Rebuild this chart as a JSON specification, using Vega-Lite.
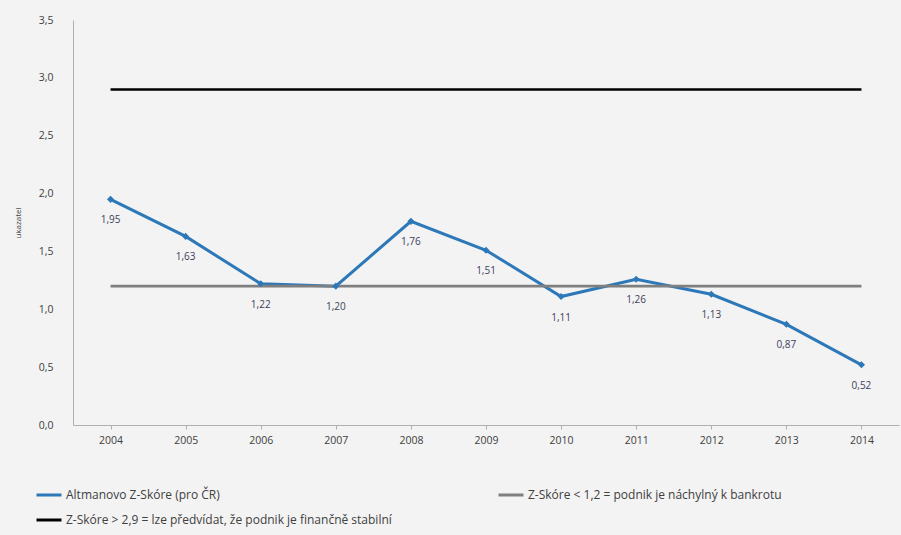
{
  "$schema": "https://vega.github.io/schema/vega-lite/v6.json",
  "width": 826,
  "height": 405,
  "autosize": {"type": "none"},
  "padding": {"left": 73, "top": 20, "right": 2, "bottom": 110},
  "background": "#f3f3f3",
  "config": {
    "font": "Open Sans",
    "view": {"stroke": null},
    "axis": {"grid": false, "labelFont": "Open Sans", "labelColor": "#404040", "labelFontSize": 10.5, "domainColor": "#b0b0b0", "tickColor": "#b0b0b0"}
  },
  "data": {"values": [
    {"year": "2004", "s": "Altmanovo Z-Skóre (pro ČR)", "v": 1.95, "lab": "1,95"},
    {"year": "2005", "s": "Altmanovo Z-Skóre (pro ČR)", "v": 1.63, "lab": "1,63"},
    {"year": "2006", "s": "Altmanovo Z-Skóre (pro ČR)", "v": 1.22, "lab": "1,22"},
    {"year": "2007", "s": "Altmanovo Z-Skóre (pro ČR)", "v": 1.20, "lab": "1,20"},
    {"year": "2008", "s": "Altmanovo Z-Skóre (pro ČR)", "v": 1.76, "lab": "1,76"},
    {"year": "2009", "s": "Altmanovo Z-Skóre (pro ČR)", "v": 1.51, "lab": "1,51"},
    {"year": "2010", "s": "Altmanovo Z-Skóre (pro ČR)", "v": 1.11, "lab": "1,11"},
    {"year": "2011", "s": "Altmanovo Z-Skóre (pro ČR)", "v": 1.26, "lab": "1,26"},
    {"year": "2012", "s": "Altmanovo Z-Skóre (pro ČR)", "v": 1.13, "lab": "1,13"},
    {"year": "2013", "s": "Altmanovo Z-Skóre (pro ČR)", "v": 0.87, "lab": "0,87"},
    {"year": "2014", "s": "Altmanovo Z-Skóre (pro ČR)", "v": 0.52, "lab": "0,52"},
    {"year": "2004", "s": "Z-Skóre < 1,2 = podnik je náchylný k bankrotu", "v": 1.2},
    {"year": "2014", "s": "Z-Skóre < 1,2 = podnik je náchylný k bankrotu", "v": 1.2},
    {"year": "2004", "s": "Z-Skóre > 2,9 = lze předvídat, že podnik je finančně stabilní", "v": 2.9},
    {"year": "2014", "s": "Z-Skóre > 2,9 = lze předvídat, že podnik je finančně stabilní", "v": 2.9}
  ]},
  "encoding": {
    "x": {"field": "year", "type": "ordinal", "axis": {"title": null, "labelAngle": 0, "labelPadding": 6, "tickSize": 4}},
    "y": {"field": "v", "type": "quantitative", "scale": {"domain": [0, 3.5]},
      "axis": {"title": "ukazatel", "titleFontSize": 8, "titleFontWeight": "normal", "titleColor": "#404040", "titlePadding": 16, "values": [0, 0.5, 1, 1.5, 2, 2.5, 3, 3.5], "labelOverlap": false, "labelExpr": "replace(format(datum.value, '.1f'), '.', ',')", "ticks": false, "labelPadding": 20}}
  },
  "layer": [
    {
      "mark": {"type": "line"},
      "encoding": {
        "color": {"field": "s", "type": "nominal",
          "scale": {"domain": ["Altmanovo Z-Skóre (pro ČR)", "Z-Skóre > 2,9 = lze předvídat, že podnik je finančně stabilní", "Z-Skóre < 1,2 = podnik je náchylný k bankrotu"], "range": ["#2c78b8", "#000000", "#7f7f7f"]},
          "legend": {"title": null, "orient": "none", "legendX": -38, "legendY": 461, "columns": 2, "columnPadding": 100, "rowPadding": 5, "symbolType": "stroke", "symbolSize": 625, "symbolStrokeWidth": 3, "labelFont": "Open Sans", "labelFontSize": 12, "labelOffset": 3, "labelColor": "#404040", "labelLimit": 600}},
        "strokeWidth": {"field": "s", "type": "nominal",
          "scale": {"domain": ["Altmanovo Z-Skóre (pro ČR)", "Z-Skóre < 1,2 = podnik je náchylný k bankrotu", "Z-Skóre > 2,9 = lze předvídat, že podnik je finančně stabilní"], "range": [3, 2.5, 4]},
          "legend": null}
      }
    },
    {
      "transform": [{"filter": "datum.lab"}],
      "mark": {"type": "point", "shape": "diamond", "filled": true, "size": 50, "opacity": 1, "color": "#2c78b8"}
    },
    {
      "transform": [{"filter": "datum.lab"}],
      "mark": {"type": "text", "dy": 21, "fontSize": 10, "color": "#3b3f5c"},
      "encoding": {"text": {"field": "lab"}}
    }
  ]
}
